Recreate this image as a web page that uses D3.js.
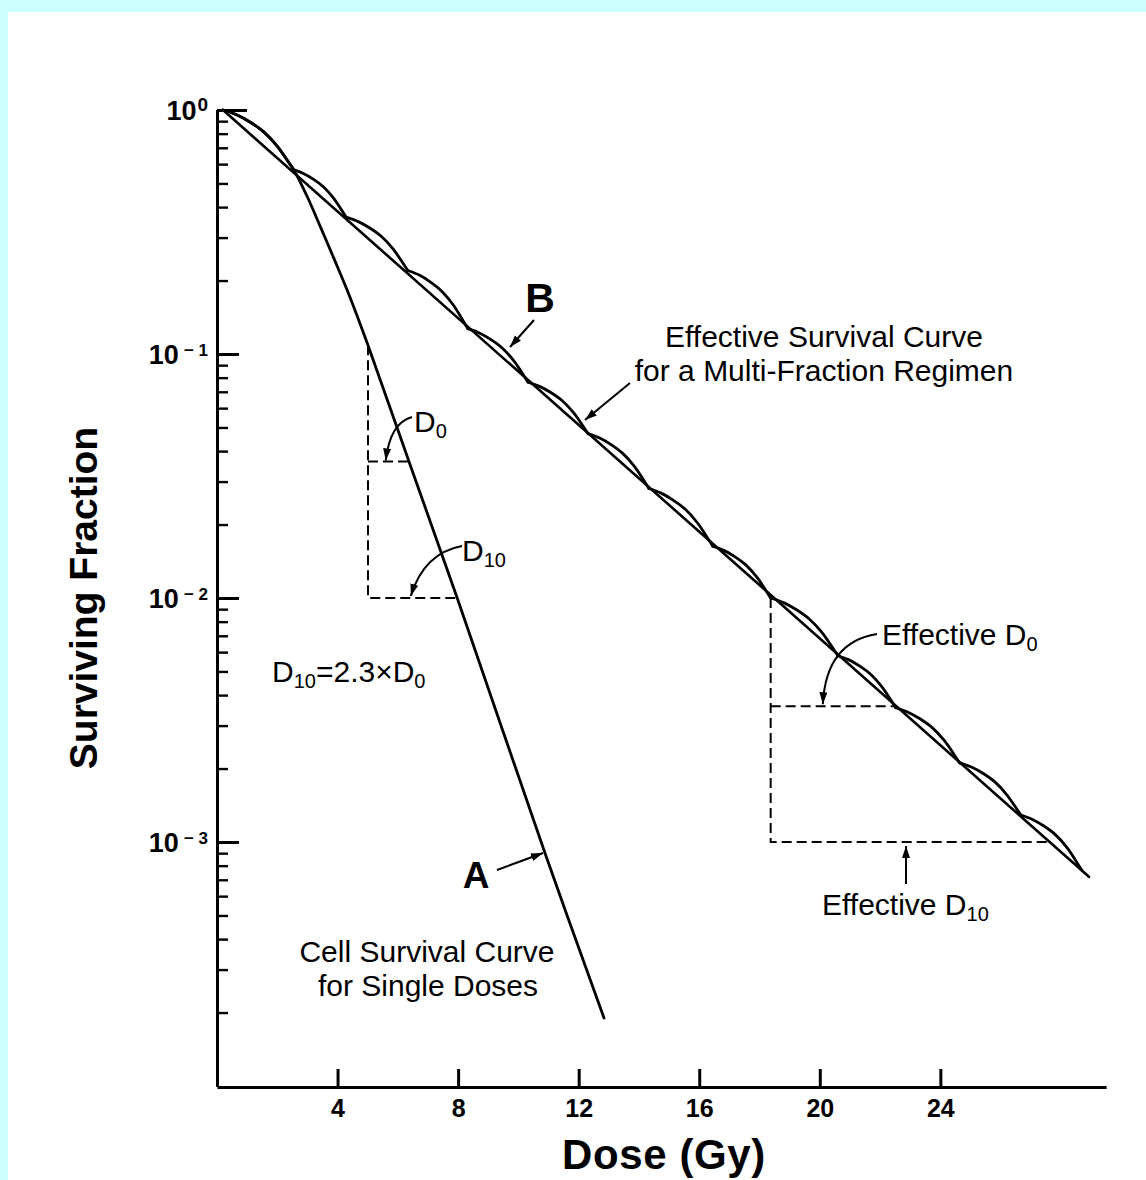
<!DOCTYPE html>
<html>
<head>
<meta charset="utf-8">
<script src="https://cdn.jsdelivr.net/npm/d3@7"></script>
<style>
  html, body { margin: 0; padding: 0; background: #ccffff; }
  svg { display: block; }
  text { font-family: "Liberation Sans", Arial, Helvetica, sans-serif; fill: #000; }
</style>
</head>
<body>
<svg id="chart" width="1146" height="1180"></svg>
<script>
// ---- Data ----------------------------------------------------------------
// Dose axis ticks (Gy)
const xTicks = [4, 8, 12, 16, 20, 24];
// Surviving-fraction decades and their exponent labels
const yDecades = [1, 0.1, 0.01, 0.001];
const yExponents = ["0", "\u2212 1", "\u2212 2", "\u2212 3"];
// Minor tick multipliers within each decade
const minorMultipliers = [2, 3, 4, 5, 6, 7, 8, 9];

// Curve A: single-dose cell survival [dose Gy, surviving fraction]
const singleDose = [
  [0.2, 1.0], [0.65, 0.956], [1.09, 0.893], [1.54, 0.815], [1.99, 0.713],
  [2.43, 0.597], [2.55, 0.568], [3.0, 0.44], [3.45, 0.328], [3.9, 0.243],
  [4.38, 0.175], [5.01, 0.1086], [6.43, 0.0345], [7.97, 0.0100],
  [10.91, 0.00088], [12.84, 0.00019]
];

// Curve B: effective (straight) survival line for the multi-fraction regimen
const effectiveLine = [[0.2, 1.0], [28.93, 0.00072]];

// Survival at the start of each fraction (junctions of the scalloped curve)
const fractionJunctions = [
  [0.2, 1.0], [2.55, 0.568], [4.28, 0.364], [6.33, 0.220], [8.32, 0.127],
  [10.32, 0.0766], [12.31, 0.0472], [14.33, 0.0281], [16.45, 0.0163],
  [18.37, 0.0100], [20.6, 0.00580], [22.52, 0.00355], [24.64, 0.00211],
  [26.67, 0.00129], [28.69, 0.000767]
];

// Shoulder of one fraction, taken from the initial part of curve A:
// [dose offset Gy, log10 of surviving fraction]
const shoulder = [
  [0, 0], [0.45, -0.0197], [0.89, -0.0492], [1.34, -0.0886],
  [1.79, -0.147], [2.23, -0.224], [2.35, -0.246]
];

// Dashed D0 / D10 construction lines [dose, surviving fraction]
const singleDoseGuides = [
  [[5.01, 0.1086], [5.01, 0.01], [7.97, 0.01]],
  [[5.01, 0.0363], [6.37, 0.0363]]
];
const effectiveGuides = [
  [[18.37, 0.01], [18.37, 0.001], [27.63, 0.001]],
  [[18.37, 0.0036], [22.55, 0.0036]]
];

// ---- Layout ----------------------------------------------------------------
const svg = d3.select("#chart");
const W = 1146, H = 1180;

svg.append("rect").attr("x", 8).attr("y", 12)
  .attr("width", W - 8).attr("height", H - 12).attr("fill", "#fff");

const x = d3.scaleLinear().domain([0, 29.5]).range([217, 217 + 29.5 * 30.14]);
const y = d3.scaleLog().domain([1e-4, 1]).range([1086, 110]);
const axisY = 1087;

// ---- Axes ----------------------------------------------------------------
const minorTicks = [];
yDecades.forEach(d => minorMultipliers.forEach(m => minorTicks.push(d * m / 10)));

const gMinor = svg.append("g").attr("transform", `translate(${x(0)},0)`)
  .call(d3.axisLeft(y).tickValues(minorTicks).tickSizeInner(-11).tickSizeOuter(0).tickFormat(""));
gMinor.select(".domain").remove();
gMinor.selectAll(".tick line").attr("stroke", "#000").attr("stroke-width", 2.4);

const gy = svg.append("g").attr("transform", `translate(${x(0)},0)`)
  .call(d3.axisLeft(y).tickValues(yDecades).tickSizeInner(-22).tickSizeOuter(0).tickPadding(9)
    .tickFormat(() => ""));
gy.select(".domain").attr("stroke", "#000").attr("stroke-width", 3)
  .attr("d", `M0.5,${axisY}V${y(1)}`);
gy.selectAll(".tick line").attr("stroke", "#000").attr("stroke-width", 3)
  .attr("x2", d => d === 1 ? 30 : 22);
gy.selectAll(".tick text").each(function(d, i) {
  const t = d3.select(this)
    .attr("font-size", 27).attr("font-weight", "bold")
    .attr("text-anchor", "end").attr("dy", "0.36em");
  t.append("tspan").text("10");
  t.append("tspan").attr("font-size", i === 0 ? 19 : 17).attr("dx", i === 0 ? 1 : 5)
    .attr("dy", i === 0 ? -9 : -8).text(yExponents[i]);
});

const gx = svg.append("g").attr("transform", `translate(0,${axisY})`)
  .call(d3.axisBottom(x).tickValues(xTicks).tickSizeInner(-18).tickSizeOuter(0).tickPadding(12));
gx.select(".domain").attr("stroke", "#000").attr("stroke-width", 3);
gx.selectAll(".tick line").attr("stroke", "#000").attr("stroke-width", 3);
gx.selectAll(".tick text").attr("font-size", 25).attr("font-weight", "bold")
  .attr("font-family", "'Liberation Sans', Arial, sans-serif");

// Axis titles
svg.append("text").attr("x", 664).attr("y", 1169).attr("text-anchor", "middle")
  .attr("font-size", 42).attr("font-weight", "bold").attr("letter-spacing", 0.6)
  .text("Dose (Gy)");
svg.append("text").attr("transform", "translate(97,598) rotate(-90)")
  .attr("text-anchor", "middle").attr("font-size", 39).attr("font-weight", "bold")
  .text("Surviving Fraction");

// ---- Curves ----------------------------------------------------------------
const line = d3.line().x(d => x(d[0])).y(d => y(d[1]));
const smooth = d3.line().x(d => x(d[0])).y(d => y(d[1])).curve(d3.curveCatmullRom.alpha(0.5));

const curves = svg.append("g").attr("fill", "none").attr("stroke", "#000")
  .attr("stroke-linejoin", "round").attr("stroke-linecap", "round");

// A: single-dose curve
curves.append("path").attr("d", smooth(singleDose)).attr("stroke-width", 2.8);

// B: straight effective line
curves.append("path").attr("d", line(effectiveLine)).attr("stroke-width", 2.6);

// B: repeated shoulders, one per fraction
const span = shoulder[shoulder.length - 1][0];
const drop = shoulder[shoulder.length - 1][1];
const arcs = d3.pairs(fractionJunctions).map(([a, b]) => {
  const la = Math.log10(a[1]), lb = Math.log10(b[1]);
  return shoulder.map(([dd, ls]) => [
    a[0] + (dd / span) * (b[0] - a[0]),
    Math.pow(10, la + (ls / drop) * (lb - la))
  ]);
});
curves.selectAll("path.arc").data(arcs).join("path").attr("class", "arc")
  .attr("d", smooth).attr("stroke-width", 2.8);

// Dashed guide lines
const guides = svg.append("g").attr("fill", "none").attr("stroke", "#000")
  .attr("stroke-width", 2).attr("stroke-dasharray", "10,5");
guides.selectAll("path").data(singleDoseGuides.concat(effectiveGuides)).join("path")
  .attr("d", line);

// ---- Annotations -------------------------------------------------------------
const defs = svg.append("defs");
defs.append("marker").attr("id", "head").attr("markerUnits", "userSpaceOnUse")
  .attr("markerWidth", 14).attr("markerHeight", 10).attr("refX", 12).attr("refY", 4)
  .attr("orient", "auto")
  .append("path").attr("d", "M0,0L12,4L0,8Z").attr("fill", "#000");

const arrows = svg.append("g").attr("fill", "none").attr("stroke", "#000").attr("stroke-width", 2);
const arrow = (d) => arrows.append("path").attr("d", d).attr("marker-end", "url(#head)");

arrow(`M412,417 Q390,423 ${x(5.6)},${y(0.0363) - 1}`);
arrow(`M462,546 Q424,553 ${x(6.43)},${y(0.01) - 2}`);
arrow(`M877,634 Q826,642 ${x(20.1)},${y(0.0036) - 2}`);
arrow(`M906,884 L906,${y(0.001) + 4}`);
arrow(`M534,320 L510,347`);
arrow(`M630,383 L585,420`);
arrow(`M497,870 L543,853`);

const label = (px, py, size, anchor) => svg.append("text").attr("x", px).attr("y", py)
  .attr("font-size", size).attr("text-anchor", anchor || "start");
const sub = (t, s, size) => t.append("tspan").attr("font-size", size || 20).attr("dy", 6).text(s);
const back = (t) => t.append("tspan").attr("dy", -6);

label(540, 312, 41, "middle").attr("font-weight", "bold").text("B");
label(476, 888, 37, "middle").attr("font-weight", "bold").text("A");

label(824, 347, 30, "middle").text("Effective Survival Curve");
label(824, 381, 30, "middle").text("for a Multi-Fraction Regimen");
label(427, 962, 30, "middle").text("Cell Survival Curve");
label(428, 996, 30, "middle").text("for Single Doses");

let t = label(414, 432, 30); t.append("tspan").text("D"); sub(t, "0");
t = label(462, 561, 30); t.append("tspan").text("D"); sub(t, "10");
t = label(272, 682, 30); t.append("tspan").text("D"); sub(t, "10");
back(t).text("=2.3\u00d7D"); sub(t, "0");
t = label(882, 645, 30); t.append("tspan").text("Effective D"); sub(t, "0");
t = label(822, 915, 30); t.append("tspan").text("Effective D"); sub(t, "10");
</script>
</body>
</html>
